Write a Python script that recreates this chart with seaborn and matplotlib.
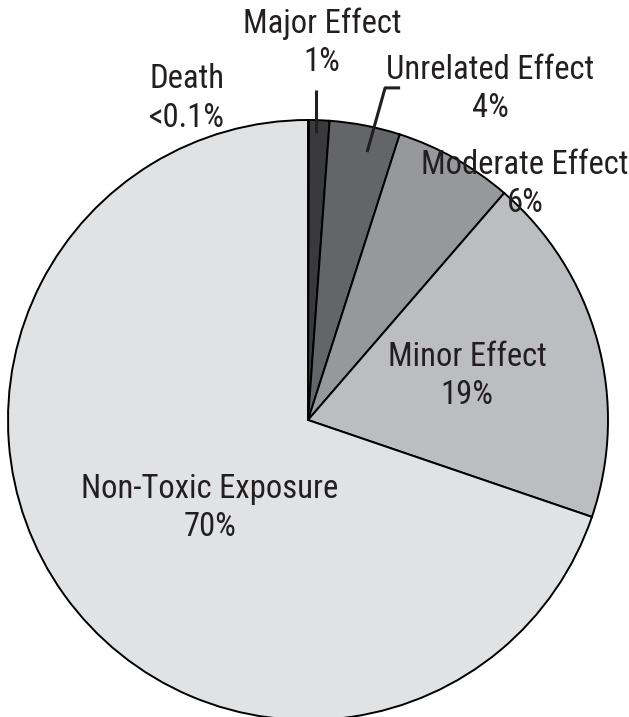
import matplotlib
matplotlib.use("Agg")
import matplotlib.pyplot as plt
import seaborn as sns

categories = ["Death", "Major Effect", "Unrelated Effect", "Moderate Effect", "Minor Effect", "Non-Toxic Exposure"]
values = [0.05, 1.1, 3.8, 6.4, 18.9, 69.8]
pct_labels = ["<0.1%", "1%", "4%", "6%", "19%", "70%"]
colors = ["#1a1a1a", "#3a3a3c", "#646569", "#97989b", "#bcbdc0", "#e1e2e4"]

sns.set_theme(style="white")
plt.rcParams['font.family'] = ['Roboto Condensed', 'DejaVu Sans']

fig = plt.figure(figsize=(6.29, 7.17), dpi=100)
ax = fig.add_axes([8/629, 1 - 720/717, 600/629, 600/717])
wedges, _ = ax.pie(values, colors=colors, startangle=90, counterclock=False,
                   radius=1.0, wedgeprops=dict(edgecolor="black", linewidth=1.4))
ax.set_xlim(-1, 1)
ax.set_ylim(-1, 1)
ax.set_axis_off()

label_pos = {
    "Death": (-0.403, 1.072),
    "Major Effect": (0.047, 1.257),
    "Unrelated Effect": (0.607, 1.103),
    "Moderate Effect": (0.723, 0.787),
    "Minor Effect": (0.53, 0.147),
    "Non-Toxic Exposure": (-0.327, -0.293),
}
for cat, pct in zip(categories, pct_labels):
    x, y = label_pos[cat]
    ax.text(x, y, f"{cat}\n{pct}", ha="center", va="center", fontsize=23.5,
            fontweight="normal", color="#231f20", linespacing=1.25, clip_on=False)

# leader lines
ax.plot([0.027, 0.027], [1.10, 0.957], color="#231f20", lw=2.2, clip_on=False, solid_capstyle="butt")
ax.plot([0.197, 0.257, 0.307], [0.893, 1.107, 1.107], color="#231f20", lw=2.2, clip_on=False, solid_capstyle="butt")

fig.savefig("out.png", dpi=100)
